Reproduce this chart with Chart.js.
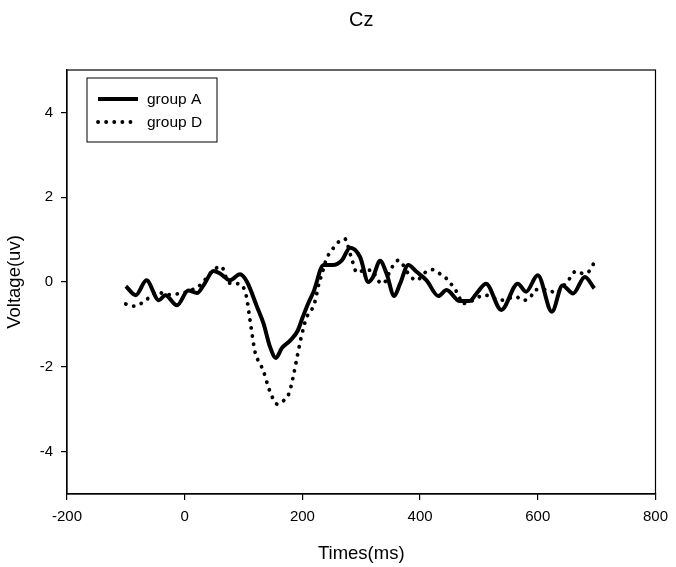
<!DOCTYPE html>
<html>
<head>
<meta charset="utf-8">
<script src="https://cdn.jsdelivr.net/npm/chart.js@4/dist/chart.umd.min.js"></script>
<style>
  html, body { margin: 0; padding: 0; background: #fff; }
  #wrap { width: 676px; height: 567px; }
</style>
</head>
<body>
<div id="wrap"><canvas id="czChart"></canvas></div>
<script>
// values
const timesA = [-100, -83, -65, -44, -33, -13, 6, 21, 32, 49, 60, 77, 94, 106, 123, 134, 145, 155, 165, 180,
  192, 200, 210, 219, 236, 252, 267, 281, 298, 312, 320, 332, 343, 356, 366, 380, 394, 411, 431, 445,
  467, 484, 498, 512, 538, 566, 580, 600, 624, 642, 660, 680, 696];
const voltsA = [-0.1, -0.31, 0.04, -0.43, -0.31, -0.55, -0.2, -0.26, -0.08, 0.26, 0.2, 0.04, 0.18, 0, -0.59, -0.98, -1.53, -1.79, -1.56, -1.37,
  -1.15, -0.85, -0.5, -0.23, 0.4, 0.4, 0.51, 0.81, 0.59, 0, 0.12, 0.5, 0.2, -0.33, -0.04, 0.4, 0.24, 0.04, -0.33, -0.19,
  -0.45, -0.45, -0.23, -0.04, -0.66, -0.04, -0.23, 0.16, -0.7, -0.08, -0.27, 0.12, -0.15];

const timesD = [-100, -86, -72, -59, -47, -30, -8, 10, 29, 43, 62, 75, 89, 99, 105, 111, 120, 128, 134, 142,
  148, 157, 168, 178, 185, 190, 198, 207, 216, 222, 228, 233, 241, 250, 261, 272, 282, 293, 306, 319,
  326, 337, 351, 363, 383, 395, 406, 421, 433, 445, 456, 465, 472, 484, 510, 538, 563, 575, 587, 596,
  619, 631, 642, 654, 665, 677, 689, 696];
const voltsD = [-0.52, -0.57, -0.49, -0.35, -0.23, -0.3, -0.27, -0.2, -0.04, 0.2, 0.37, -0.02, -0.04, -0.11, -0.35, -0.9, -1.68, -1.92, -2.11, -2.47,
  -2.69, -2.88, -2.8, -2.6, -2.19, -1.84, -1.3, -0.84, -0.65, -0.43, -0.04, 0.18, 0.55, 0.75, 0.94, 1.02, 0.63, 0.22, 0.28, 0.28,
  0.08, -0.04, 0.32, 0.51, 0.14, 0.04, 0.2, 0.29, 0.2, 0.08, -0.11, -0.3, -0.51, -0.47, -0.31, -0.43, -0.35, -0.43, -0.37, -0.18,
  -0.19, -0.27, -0.12, 0.08, 0.26, 0.2, 0.28, 0.47];

const xTicks = [-200, 0, 200, 400, 600, 800];
const yTicks = [-4, -2, 0, 2, 4];

const FONT = '"Liberation Sans", Arial, sans-serif';

function toPoints(xs, ys) {
  return xs.map((x, i) => ({ x: x, y: ys[i] }));
}

// full box around the plot
const frame = {
  id: 'frame',
  afterDraw(chart) {
    const a = chart.chartArea, ctx = chart.ctx;
    ctx.save();
    ctx.strokeStyle = '#000';
    ctx.lineWidth = 1.2;
    ctx.strokeRect(a.left, a.top, a.right - a.left, a.bottom - a.top);
    ctx.restore();
  }
};

// boxed legend in the top-left corner of the plot
const boxLegend = {
  id: 'boxLegend',
  afterDraw(chart) {
    const a = chart.chartArea, ctx = chart.ctx;
    const x0 = a.left + 20, y0 = a.top + 8, w = 130, h = 64;
    ctx.save();
    ctx.fillStyle = '#fff';
    ctx.fillRect(x0, y0, w, h);
    ctx.strokeStyle = '#000';
    ctx.lineWidth = 1;
    ctx.strokeRect(x0, y0, w, h);
    chart.data.datasets.forEach((ds, i) => {
      const y = y0 + 21 + i * 23;
      ctx.beginPath();
      ctx.strokeStyle = ds.borderColor;
      ctx.lineWidth = ds.borderWidth;
      ctx.lineCap = ds.borderCapStyle || 'butt';
      ctx.setLineDash(ds.borderDash || []);
      ctx.moveTo(x0 + 11, y);
      ctx.lineTo(x0 + 51, y);
      ctx.stroke();
      ctx.setLineDash([]);
      ctx.fillStyle = '#000';
      ctx.font = '15.5px ' + FONT;
      ctx.textBaseline = 'middle';
      ctx.fillText(ds.label, x0 + 60, y + 1);
    });
    ctx.restore();
  }
};

new Chart(document.getElementById('czChart'), {
  type: 'line',
  data: {
    datasets: [
      {
        label: 'group A',
        data: toPoints(timesA, voltsA),
        borderColor: '#000',
        borderWidth: 4,
        pointRadius: 0,
        cubicInterpolationMode: 'monotone',
        fill: false
      },
      {
        label: 'group D',
        data: toPoints(timesD, voltsD),
        borderColor: '#000',
        borderWidth: 3.8,
        borderDash: [0.1, 8],
        borderCapStyle: 'round',
        pointRadius: 0,
        cubicInterpolationMode: 'monotone',
        fill: false
      }
    ]
  },
  options: {
    responsive: true,
    maintainAspectRatio: false,
    animation: false,
    layout: { padding: { left: 0, right: 19, top: 0, bottom: 0 } },
    plugins: {
      legend: { display: false },
      tooltip: { enabled: false },
      title: {
        display: true,
        text: 'Cz',
        fullSize: false,
        color: '#000',
        font: { family: FONT, size: 20, weight: 'normal', lineHeight: 1.2 },
        padding: { top: 8, bottom: 38 }
      }
    },
    scales: {
      x: {
        type: 'linear',
        min: -200,
        max: 800,
        afterBuildTicks: s => { s.ticks = xTicks.map(v => ({ value: v })); },
        afterFit: s => { s.height = 73; },
        grid: { drawOnChartArea: false, tickLength: 6, color: '#000', lineWidth: 1.2 },
        border: { color: '#000', width: 1.2 },
        ticks: { color: '#000', padding: 8, maxRotation: 0, font: { family: FONT, size: 15 } },
        title: {
          display: true,
          text: 'Times(ms)',
          color: '#000',
          font: { family: FONT, size: 18.5, lineHeight: 1.2 },
          padding: { top: 0, bottom: 2 }
        }
      },
      y: {
        min: -5,
        max: 5,
        afterBuildTicks: s => { s.ticks = yTicks.map(v => ({ value: v })); },
        afterFit: s => { s.width = 67; },
        grid: { drawOnChartArea: false, tickLength: 6, color: '#000', lineWidth: 1.2 },
        border: { color: '#000', width: 1.2 },
        ticks: { color: '#000', padding: 8, font: { family: FONT, size: 15 } },
        title: {
          display: true,
          text: 'Voltage(uv)',
          color: '#000',
          font: { family: FONT, size: 18.5, lineHeight: 1.2 },
          padding: { top: 4, bottom: 0 }
        }
      }
    }
  },
  plugins: [frame, boxLegend]
});
</script>
</body>
</html>
